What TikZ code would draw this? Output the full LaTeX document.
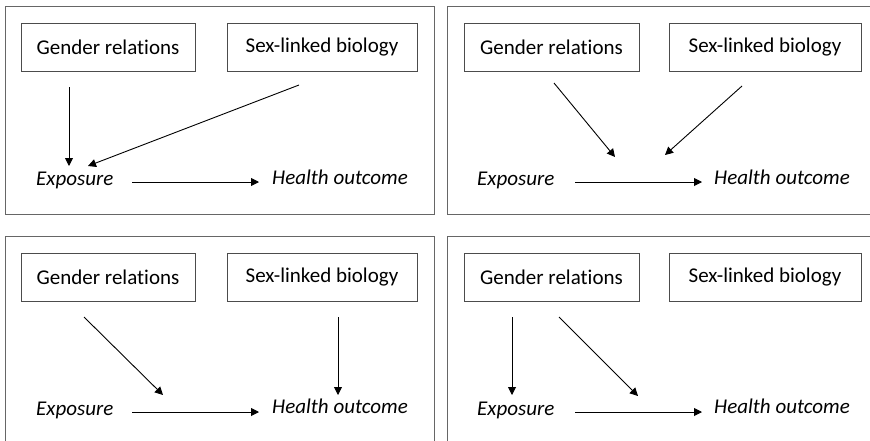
\documentclass[tikz,border=0pt]{standalone}
\usepackage{fontspec}
\setmainfont[RawFeature=-liga]{Carlito}
\usetikzlibrary{arrows.meta}
\tikzset{
  frame/.style={draw=black!60, line width=0.8pt},
  factor/.style={draw=black!70, line width=0.8pt, minimum height=48pt, inner sep=0pt, font=\fontsize{21}{25}\selectfont},
  var/.style={inner sep=0pt, font=\fontsize{21}{25}\selectfont\itshape},
  arr/.style={line width=0.9pt, -{Triangle[length=8pt,width=8pt]}}
}
\begin{document}
\begin{tikzpicture}[x=1pt,y=-1pt]
\useasboundingbox (0,0) rectangle (870,440);
\clip (0,0) rectangle (870,440);
% frames
\draw[frame] (5,6) rectangle (434,214);
\draw[frame] (447,6) rectangle (880,214);
\draw[frame] (5,236) rectangle (434,450);
\draw[frame] (447,236) rectangle (880,450);
% ---------- panel 1
\begin{scope}[shift={(0,0)}]
\node[factor, minimum width=174pt] (g1) at (108,47) {Gender relations};
\node[factor, minimum width=190pt] (s1) at (322,47) {Sex-linked biology};
\node[var, anchor=base west] (e1) at (36,185) {Exposure};
\node[var, anchor=base west] (h1) at (272,184) {Health outcome};
\coordinate (a1s) at (69,87); \coordinate (a1e) at (69,166);
\coordinate (b1s) at (299,85); \coordinate (b1e) at (88,166);
\coordinate (c1s) at (132,182); \coordinate (c1e) at (259,182);
\draw[arr] (a1s) -- (a1e);
\draw[arr] (b1s) -- (b1e);
\draw[arr] (c1s) -- (c1e);
\end{scope}
% ---------- panel 2
\begin{scope}[shift={(443,0)}]
\node[factor, minimum width=175pt] (g2) at (108.5,47) {Gender relations};
\node[factor, minimum width=192pt] (s2) at (322,47) {Sex-linked biology};
\node[var, anchor=base west] (e2) at (34,185) {Exposure};
\node[var, anchor=base west] (h2) at (271,184) {Health outcome};
\coordinate (a2s) at (111,83); \coordinate (a2e) at (172,157);
\coordinate (b2s) at (299,86); \coordinate (b2e) at (222,155);
\coordinate (c2s) at (132,182); \coordinate (c2e) at (259,182);
\draw[arr] (a2s) -- (a2e);
\draw[arr] (b2s) -- (b2e);
\draw[arr] (c2s) -- (c2e);
\end{scope}
% ---------- panel 3
\begin{scope}[shift={(0,230)}]
\node[factor, minimum width=174pt] (g3) at (108,47) {Gender relations};
\node[factor, minimum width=190pt] (s3) at (322,47) {Sex-linked biology};
\node[var, anchor=base west] (e3) at (36,185) {Exposure};
\node[var, anchor=base west] (h3) at (272,183) {Health outcome};
\coordinate (a3s) at (84,87); \coordinate (a3e) at (163,165);
\coordinate (b3s) at (338,87); \coordinate (b3e) at (338,165);
\coordinate (c3s) at (132,182); \coordinate (c3e) at (259,182);
\draw[arr] (a3s) -- (a3e);
\draw[arr] (b3s) -- (b3e);
\draw[arr] (c3s) -- (c3e);
\end{scope}
% ---------- panel 4
\begin{scope}[shift={(443,230)}]
\node[factor, minimum width=175pt] (g4) at (108.5,47) {Gender relations};
\node[factor, minimum width=192pt] (s4) at (322,47) {Sex-linked biology};
\node[var, anchor=base west] (e4) at (34,185) {Exposure};
\node[var, anchor=base west] (h4) at (271,183) {Health outcome};
\coordinate (a4s) at (69,87); \coordinate (a4e) at (69,165);
\coordinate (b4s) at (116,87); \coordinate (b4e) at (195,166);
\coordinate (c4s) at (132,182); \coordinate (c4e) at (259,182);
\draw[arr] (a4s) -- (a4e);
\draw[arr] (b4s) -- (b4e);
\draw[arr] (c4s) -- (c4e);
\end{scope}
\end{tikzpicture}
\end{document}
